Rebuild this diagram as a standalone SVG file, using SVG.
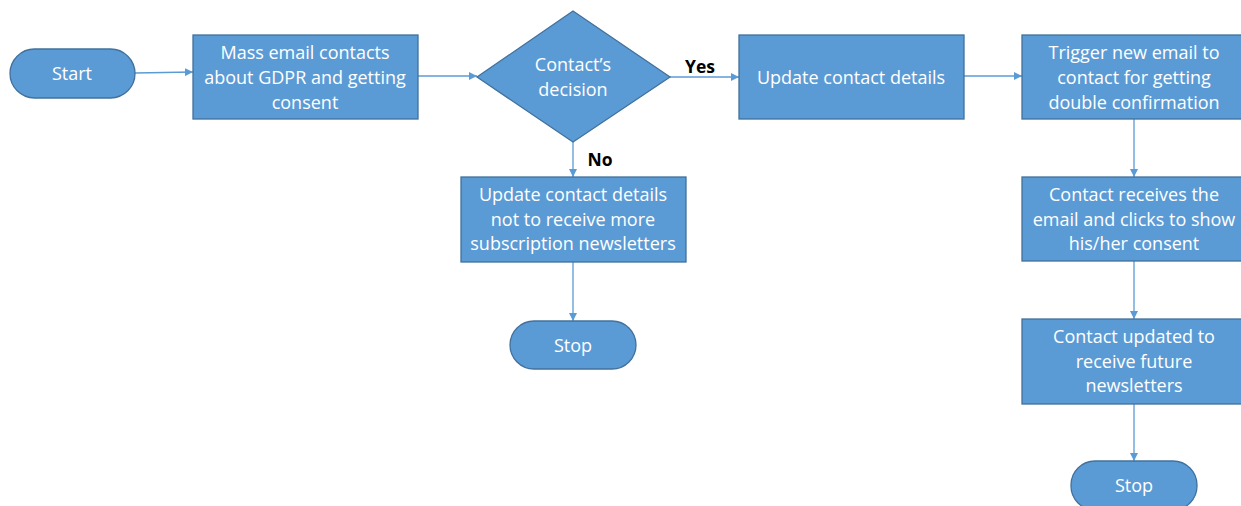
<svg xmlns="http://www.w3.org/2000/svg" width="1241" height="506" viewBox="0 0 1241 506">
<defs>
<marker id="arr" viewBox="0 0 10 10" refX="10" refY="5" markerWidth="8" markerHeight="8" markerUnits="userSpaceOnUse" orient="auto">
<path d="M0,0 L10,5 L0,10 z" fill="#5B9BD5"/>
</marker>
</defs>
<style>
.shape{fill:#5B9BD5;stroke:#41719C;stroke-width:1.3}
.t{font-family:"Open Sans","DejaVu Sans",sans-serif;font-size:18px;fill:#FFFFFF;text-anchor:middle}
.lbl{font-family:"Open Sans","DejaVu Sans",sans-serif;font-size:17.5px;font-weight:bold;fill:#000000;text-anchor:middle}
.c{stroke:#5B9BD5;stroke-width:1.3;fill:none;marker-end:url(#arr)}
</style>
<rect width="1241" height="506" fill="#FFFFFF"/>
<g id="connectors">
<line class="c" x1="135" y1="73" x2="193" y2="72"/>
<line class="c" x1="418" y1="76" x2="477" y2="76"/>
<line class="c" x1="670" y1="77" x2="739" y2="77"/>
<line class="c" x1="573" y1="142" x2="573" y2="177"/>
<line class="c" x1="573" y1="262" x2="573" y2="321"/>
<line class="c" x1="963" y1="76" x2="1022" y2="76"/>
<line class="c" x1="1134" y1="119" x2="1134" y2="177"/>
<line class="c" x1="1134" y1="261" x2="1134" y2="319"/>
<line class="c" x1="1134" y1="404" x2="1134" y2="461"/>
</g>
<g id="start">
<rect class="shape" x="10" y="49" width="125" height="49" rx="24.5" ry="24.5"/>
<text class="t" x="72" y="80">Start</text>
</g>
<g id="mass-email">
<rect class="shape" x="193" y="35" width="225" height="84"/>
<text class="t" x="305" y="59">Mass email contacts</text>
<text class="t" x="305" y="84">about GDPR and getting</text>
<text class="t" x="305" y="109">consent</text>
</g>
<g id="decision">
<polygon class="shape" points="573,11 670,77 573,142 477,77"/>
<text class="t" x="573" y="71">Contact’s</text>
<text class="t" x="573" y="96">decision</text>
</g>
<g id="label-yes"><text class="lbl" x="700" y="73">Yes</text></g>
<g id="label-no"><text class="lbl" x="600" y="166">No</text></g>
<g id="update-details">
<rect class="shape" x="739" y="35" width="225" height="84"/>
<text class="t" x="851" y="84">Update contact details</text>
</g>
<g id="update-no">
<rect class="shape" x="461" y="177" width="225" height="85"/>
<text class="t" x="573" y="201">Update contact details</text>
<text class="t" x="573" y="226">not to receive more</text>
<text class="t" x="573" y="250">subscription newsletters</text>
</g>
<g id="stop-1">
<rect class="shape" x="510" y="321" width="126" height="48" rx="24" ry="24"/>
<text class="t" x="573" y="352">Stop</text>
</g>
<g id="trigger">
<rect class="shape" x="1022" y="35" width="225" height="84"/>
<text class="t" x="1134" y="59">Trigger new email to</text>
<text class="t" x="1134" y="84">contact for getting</text>
<text class="t" x="1134" y="109">double confirmation</text>
</g>
<g id="receives">
<rect class="shape" x="1022" y="177" width="225" height="84"/>
<text class="t" x="1134" y="201">Contact receives the</text>
<text class="t" x="1134" y="226">email and clicks to show</text>
<text class="t" x="1134" y="250">his/her consent</text>
</g>
<g id="updated">
<rect class="shape" x="1022" y="319" width="225" height="85"/>
<text class="t" x="1134" y="343">Contact updated to</text>
<text class="t" x="1134" y="368">receive future</text>
<text class="t" x="1134" y="392">newsletters</text>
</g>
<g id="stop-2">
<rect class="shape" x="1071" y="461" width="126" height="49" rx="24" ry="24"/>
<text class="t" x="1134" y="492">Stop</text>
</g>
</svg>
